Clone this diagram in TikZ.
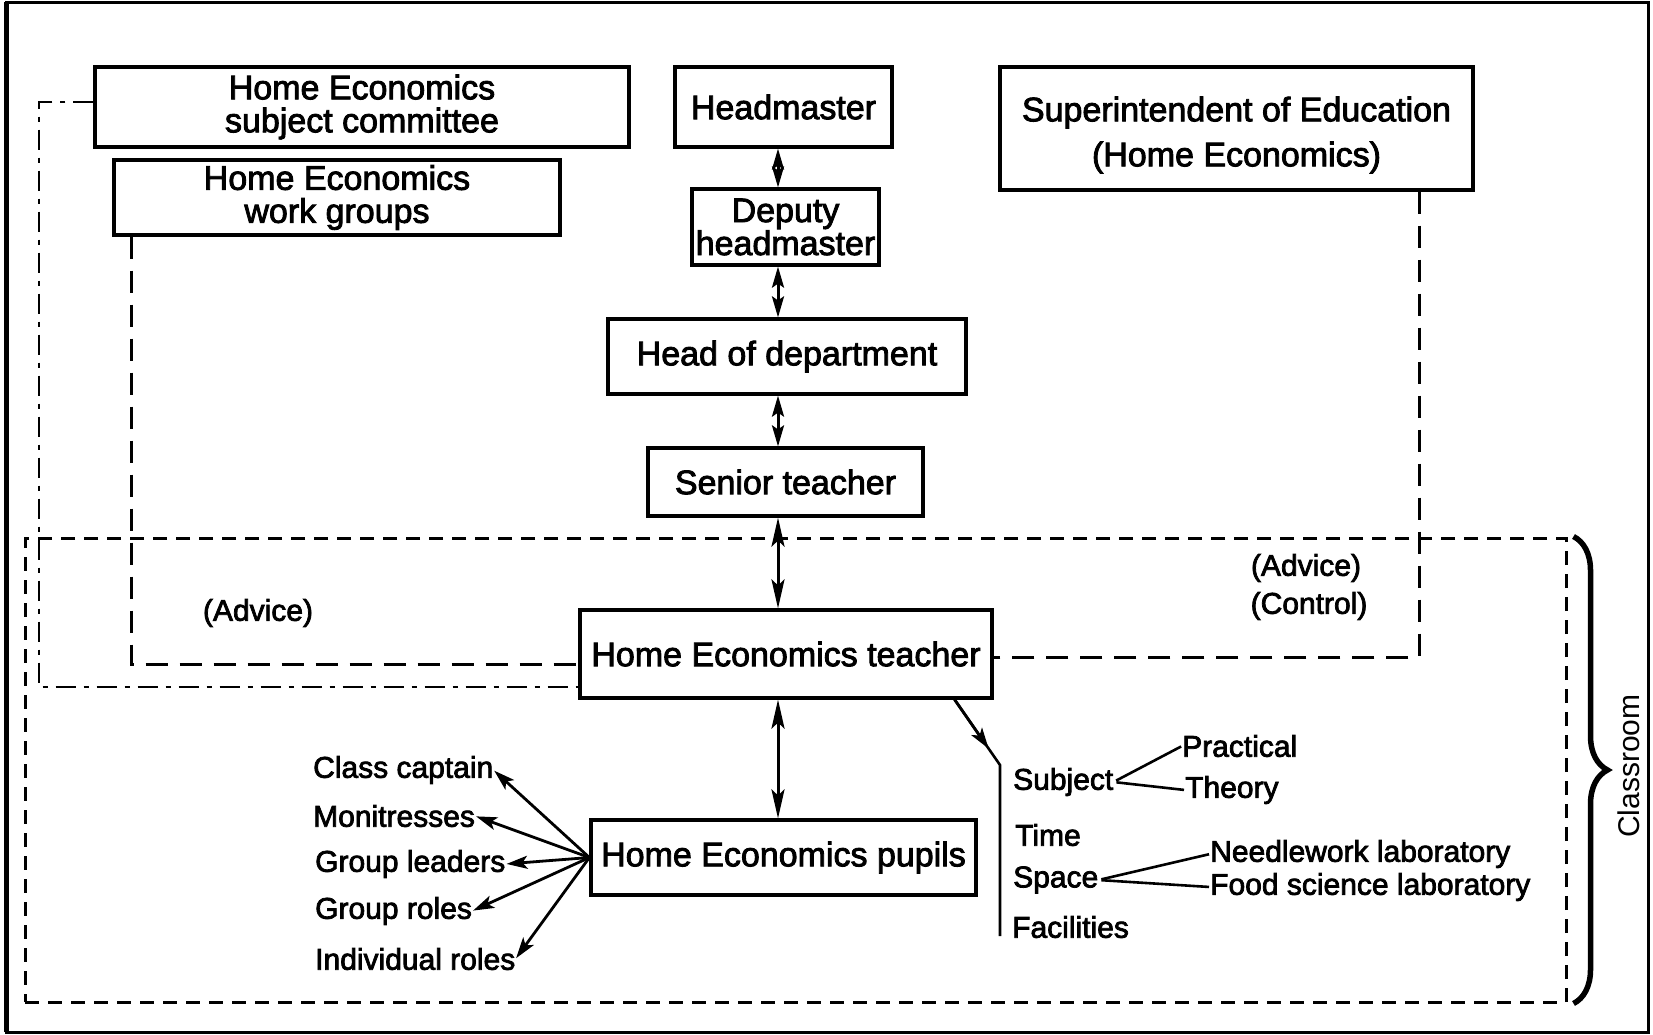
\documentclass[tikz,border=0pt]{standalone}
\usepackage{fontspec}
\setmainfont{Liberation Sans}
\newfontfamily\heavyfnt{Liberation Sans}[FakeBold=2.5]
\usetikzlibrary{arrows.meta,decorations.pathreplacing,calc}
\newcommand\boxfnt{\fontsize{34}{33}\selectfont\heavyfnt}
\newcommand\lblfnt{\fontsize{30}{30}\selectfont\heavyfnt}
\begin{document}
\begin{tikzpicture}[x=1pt,y=-1pt,
  bx/.style={draw,line width=3.2pt,inner sep=0pt,align=center,font=\boxfnt},
  lbl/.style={inner sep=0pt,font=\lblfnt},
  dl/.style={line width=3pt,dash pattern=on 22pt off 12pt},
  dd/.style={line width=2.8pt,dash pattern=on 20pt off 8pt on 5pt off 8pt},
  cl/.style={line width=3pt,dash pattern=on 14pt off 9pt},
  ar/.style={line width=3pt,{Stealth[length=29pt,width=13pt,inset=6pt]}-{Stealth[length=29pt,width=13pt,inset=6pt]}},
  ars/.style={line width=3pt,{Stealth[length=21pt,width=12pt,inset=4pt]}-{Stealth[length=21pt,width=12pt,inset=4pt]}},
  sa/.style={line width=2.8pt,-{Stealth[length=21pt,width=13pt,inset=5pt]}},
  tl/.style={line width=2.6pt}]
\useasboundingbox (0,0) rectangle (1653,1034);
% outer frame
\draw[line width=3pt] (6,2) rectangle (1648,1032);
\draw[line width=5pt] (6,2) -- (6,1032);
% classroom area
\node[cl,draw,minimum width=1541pt,minimum height=464pt,inner sep=0pt] (room) at (795.5,770) {};
\draw[line width=5.5pt,decorate,decoration={brace,amplitude=34pt}]
  ([xshift=6pt]room.north east) -- ([xshift=6pt]room.south east);
\node[inner sep=0pt,font=\fontsize{30}{30}\selectfont,rotate=90] (clr) at (1629,766) {Classroom};
% boxes
\node[bx,minimum width=534pt,minimum height=80pt] (sc) at (362,107) {Home Economics\\subject committee};
\node[bx,minimum width=446pt,minimum height=75pt] (wg) at (337,197.5) {Home Economics\\work groups};
\node[bx,minimum width=217pt,minimum height=80pt] (hm) at (783.5,107) {Headmaster};
\node[bx,minimum width=187pt,minimum height=76pt] (dh) at (785.5,227) {Deputy\\headmaster};
\node[bx,minimum width=358pt,minimum height=75pt] (hd) at (787,356.5) {Head of department};
\node[bx,minimum width=275pt,minimum height=68pt] (st) at (785.5,482) {Senior teacher};
\node[bx,minimum width=473pt,minimum height=123pt] (si) at (1236.5,128.5) {};
\node[inner sep=0pt,align=center,font=\boxfnt] (sit) at (1236.5,135) {Superintendent of Education\\[12pt](Home Economics)};
\node[bx,fill=white,minimum width=412pt,minimum height=88pt] (te) at (786,654) {Home Economics teacher};
\node[bx,minimum width=385pt,minimum height=75pt] (pu) at (783.5,857.5) {Home Economics pupils};
% vertical arrows
\coordinate (ax) at (778,0);
\draw[ars] (hm.south -| ax) -- (dh.north -| ax);
\draw[ars] (dh.south -| ax) -- (hd.north -| ax);
\draw[ars] (hd.south -| ax) -- (st.north -| ax);
\draw[ar] (st.south -| ax) -- (te.north -| ax);
\draw[ar] (te.south -| ax) -- (pu.north -| ax);
% dashed connectors
\coordinate (c1) at (39,687);
\coordinate (c2) at (131,664);
\coordinate (c3) at (1419,657);
\draw[dd] (sc.west) ++(0,-5) -| (c1) -- (c1 -| te.west);
\draw[dl] (wg.south -| c2) -- (c2) -- (c2 -| te.west);
\draw[dl] (si.south -| c3) -- (c3) -- (c3 -| te.east);
% advice labels
\node[lbl] (la) at (258,613) {(Advice)};
\node[lbl] (ra) at (1306,568) {(Advice)};
\node[lbl] (rc) at (1309,606) {(Control)};
% pupils roles
\node[lbl,anchor=west] (cc) at (313,770) {Class captain};
\node[lbl,anchor=west] (mo) at (313,816) {Monitresses};
\node[lbl,anchor=west] (gl) at (315,864) {Group leaders};
\node[lbl,anchor=west] (gr) at (315,911) {Group roles};
\node[lbl,anchor=west] (ir) at (315,959) {Individual roles};
\foreach \t in {cc,mo,gl,gr,ir} \draw[sa,shorten >=1pt] (pu.west) -- (\t.east);
% teacher resources
\coordinate (tb) at ([xshift=-39pt]te.south east);
\coordinate (bk) at (1000,765);
\coordinate (bb) at (1000,936);
\draw[tl] (tb) -- (bk) -- (bb);
\draw[sa] (tb) -- ($(tb)!0.75!(bk)$);
\node[lbl,anchor=west] (sj) at (1013,782) {Subject};
\node[lbl,anchor=west] (tm) at (1015,835) {Time};
\node[lbl,anchor=west] (sp) at (1013,880) {Space};
\node[lbl,anchor=west] (fa) at (1012,927) {Facilities};
\node[lbl,anchor=west] (pr) at (1182,746) {Practical};
\node[lbl,anchor=west] (th) at (1185,790) {Theory};
\node[lbl,anchor=west] (nw) at (1210,854) {Needlework laboratory};
\node[lbl,anchor=west] (fs) at (1210,887) {Food science laboratory};
\draw[tl,shorten <=3pt,shorten >=1pt] (sj.east) -- (pr.west);
\draw[tl,shorten <=3pt,shorten >=1pt] (sj.east) -- (th.west);
\draw[tl,shorten <=3pt,shorten >=1pt] (sp.east) -- (nw.west);
\draw[tl,shorten <=3pt,shorten >=1pt] (sp.east) -- (fs.west);
\end{tikzpicture}
\end{document}
